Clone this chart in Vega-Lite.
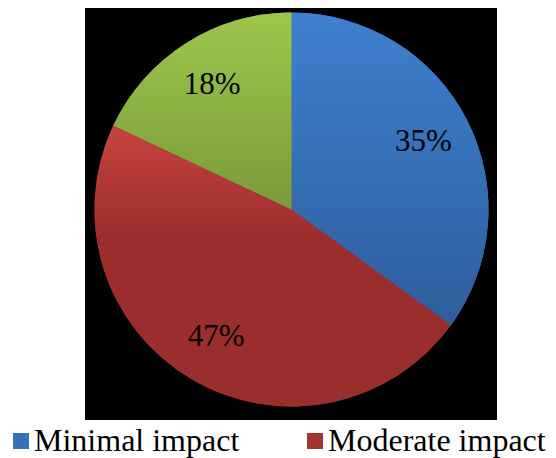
{
  "$schema": "https://vega.github.io/schema/vega-lite/v6.json",
  "width": 412,
  "height": 412,
  "autosize": {"type": "none"},
  "padding": {"left": 85, "top": 8, "right": 59, "bottom": 38},
  "background": "white",
  "view": {"fill": "black", "stroke": null},
  "data": {
    "values": [
      {"impact": "Minimal impact", "share": 35, "label": "35%", "rank": 1},
      {"impact": "Moderate impact", "share": 47, "label": "47%", "rank": 2},
      {"impact": "Major impact", "share": 18, "label": "18%", "rank": 3}
    ]
  },
  "transform": [
    {"stack": "share", "groupby": [], "sort": [{"field": "rank", "order": "ascending"}], "as": ["s0", "s1"]}
  ],
  "layer": [
    {
      "mark": {"type": "arc", "radius": 197, "x": 206.5, "y": 201.5, "stroke": null},
      "encoding": {
        "theta": {"field": "s0", "type": "quantitative", "scale": {"domain": [0, 100]}},
        "theta2": {"field": "s1"},
        "color": {
          "field": "impact",
          "type": "nominal",
          "scale": {
            "domain": ["Minimal impact", "Moderate impact", "Major impact"],
            "range": ["#3770B8", "#A43432", "#8CAF44"]
          },
          "legend": {
            "values": ["Minimal impact", "Moderate impact"],
            "orient": "none",
            "legendX": -80,
            "legendY": 417,
            "direction": "horizontal",
            "title": null,
            "padding": 0,
            "symbolType": "square",
            "symbolSize": 256,
            "symbolStrokeWidth": 0,
            "labelFont": "Liberation Serif, DejaVu Serif, serif",
            "labelFontSize": 32,
            "labelColor": "black",
            "labelOffset": -3,
            "labelLimit": 400,
            "columnPadding": 59
          }
        }
      }
    },
    {
      "transform": [{"filter": "datum.impact === 'Minimal impact'"}],
      "mark": {"type": "arc", "radius": 197, "x": 206.5, "y": 201.5, "stroke": null,
        "fill": {"gradient": "linear", "x1": 0, "y1": 0, "x2": 0, "y2": 1, "stops": [{"offset": 0, "color": "#3E80CF"}, {"offset": 1, "color": "#2F5E9D"}]}},
      "encoding": {
        "theta": {"field": "s0", "type": "quantitative"},
        "theta2": {"field": "s1"}
      }
    },
    {
      "transform": [{"filter": "datum.impact === 'Moderate impact'"}],
      "mark": {"type": "arc", "radius": 197, "x": 206.5, "y": 201.5, "stroke": null,
        "fill": {"gradient": "linear", "x1": 0, "y1": 0, "x2": 0, "y2": 1, "stops": [{"offset": 0, "color": "#C8433F"}, {"offset": 0.4, "color": "#9B2E2D"}, {"offset": 1, "color": "#9A2E2D"}]}},
      "encoding": {
        "theta": {"field": "s0", "type": "quantitative"},
        "theta2": {"field": "s1"}
      }
    },
    {
      "transform": [{"filter": "datum.impact === 'Major impact'"}],
      "mark": {"type": "arc", "radius": 197, "x": 206.5, "y": 201.5, "stroke": null,
        "fill": {"gradient": "linear", "x1": 0, "y1": 0, "x2": 0, "y2": 1, "stops": [{"offset": 0, "color": "#9DC64B"}, {"offset": 1, "color": "#7A9A3A"}]}},
      "encoding": {
        "theta": {"field": "s0", "type": "quantitative"},
        "theta2": {"field": "s1"}
      }
    },
    {
      "mark": {"type": "text", "radius": 148, "x": 206.5, "y": 201.5, "font": "Liberation Serif, DejaVu Serif, serif", "fontSize": 31, "color": "black", "baseline": "middle", "align": "center"},
      "encoding": {
        "theta": {"field": "share", "type": "quantitative", "stack": true},
        "order": {"field": "rank", "type": "quantitative"},
        "text": {"field": "label", "type": "nominal"}
      }
    }
  ]
}
